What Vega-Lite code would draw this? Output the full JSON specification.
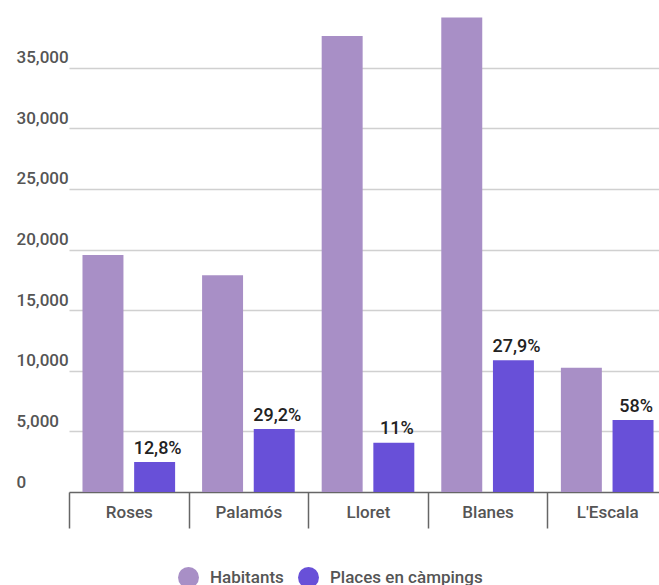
{
  "$schema": "https://vega.github.io/schema/vega-lite/v6.json",
  "width": 644,
  "height": 485,
  "autosize": {"type": "none"},
  "padding": {"left": 15, "top": 7, "right": 0, "bottom": 93},
  "background": "white",
  "config": {"view": {"stroke": null}, "font": "Roboto"},
  "data": {
    "values": [
      {"town": "Roses", "series": "Habitants", "value": 19550, "label": ""},
      {"town": "Roses", "series": "Places en càmpings", "value": 2470, "label": "12,8%"},
      {"town": "Palamós", "series": "Habitants", "value": 17880, "label": ""},
      {"town": "Palamós", "series": "Places en càmpings", "value": 5190, "label": "29,2%"},
      {"town": "Lloret", "series": "Habitants", "value": 37610, "label": ""},
      {"town": "Lloret", "series": "Places en càmpings", "value": 4060, "label": "11%"},
      {"town": "Blanes", "series": "Habitants", "value": 39130, "label": ""},
      {"town": "Blanes", "series": "Places en càmpings", "value": 10870, "label": "27,9%"},
      {"town": "L'Escala", "series": "Habitants", "value": 10240, "label": ""},
      {"town": "L'Escala", "series": "Places en càmpings", "value": 5930, "label": "58%"}
    ]
  },
  "encoding": {
    "x": {
      "field": "town",
      "type": "nominal",
      "sort": ["Roses", "Palamós", "Lloret", "Blanes", "L'Escala"],
      "scale": {"range": [54, 652], "paddingInner": 0, "paddingOuter": 0},
      "axis": {
        "title": null,
        "domain": false,
        "grid": false,
        "ticks": true,
        "tickBand": "extent",
        "tickSize": 36,
        "tickColor": "#666",
        "tickWidth": 1.5,
        "labelAngle": 0,
        "labelFontSize": 17,
        "labelFontWeight": 500,
        "labelColor": "#555",
        "labelPadding": -24
      }
    },
    "xOffset": {
      "field": "series",
      "type": "nominal",
      "sort": ["Habitants", "Places en càmpings"],
      "scale": {"paddingInner": 0.207, "paddingOuter": 0.261}
    },
    "y": {
      "field": "value",
      "type": "quantitative",
      "scale": {"domain": [0, 40000], "nice": false},
      "axis": {
        "title": null,
        "values": [0, 5000, 10000, 15000, 20000, 25000, 30000, 35000],
        "format": ",d",
        "domain": false,
        "ticks": false,
        "tickSize": 0,
        "labelAlign": "left",
        "labelBaseline": "alphabetic",
        "labelOffset": -5,
        "labelPadding": -1,
        "labelFontSize": 17,
        "labelFontWeight": 500,
        "labelColor": "#555",
        "gridColor": {"condition": {"test": "datum.value === 0", "value": "#666"}, "value": "#d0d0d0"},
        "gridWidth": 1.5
      }
    }
  },
  "layer": [
    {
      "mark": {"type": "bar", "clip": true},
      "encoding": {
        "color": {
          "field": "series",
          "type": "nominal",
          "scale": {"domain": ["Habitants", "Places en càmpings"], "range": ["#a88fc6", "#6850d8"]},
          "legend": {
            "title": null,
            "orient": "none",
            "legendX": 163,
            "legendY": 560,
            "direction": "horizontal",
            "symbolType": "circle",
            "symbolSize": 440,
            "symbolStrokeWidth": 0,
            "symbolOpacity": 1,
            "labelFontSize": 17,
            "labelFontWeight": 500,
            "labelColor": "#555",
            "labelOffset": 11,
            "columnPadding": 14
          }
        }
      }
    },
    {
      "mark": {"type": "text", "baseline": "alphabetic", "dy": -8.5, "dx": 3, "fontSize": 18, "fontWeight": 500, "fill": "#222"},
      "encoding": {"text": {"field": "label"}}
    }
  ]
}
